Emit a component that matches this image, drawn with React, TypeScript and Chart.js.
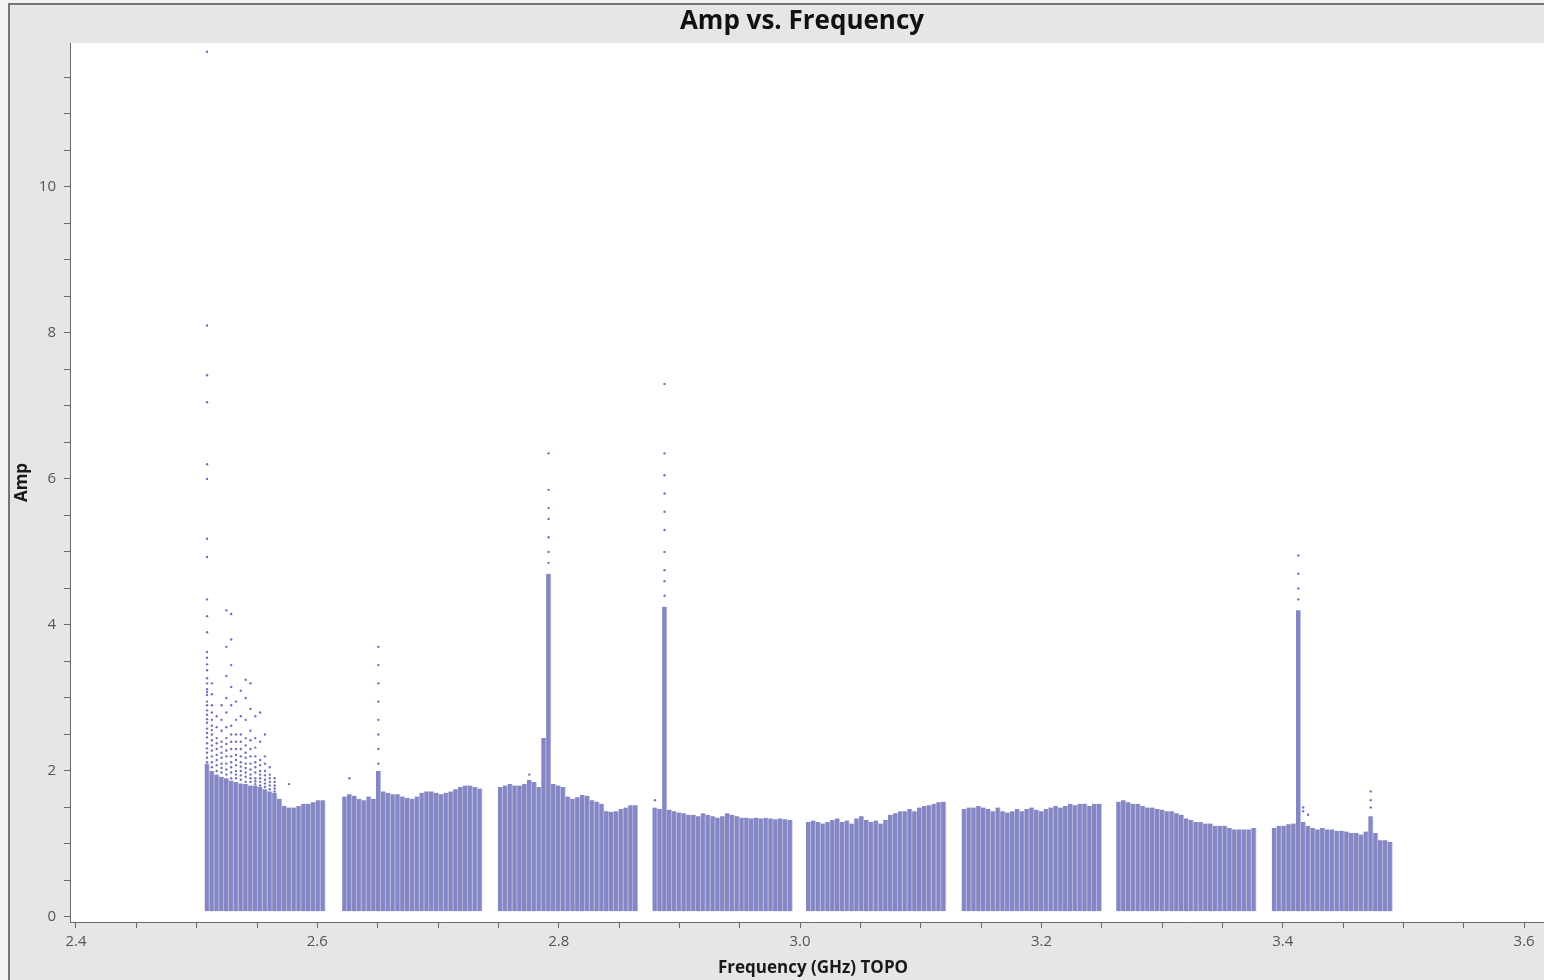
import React, { useEffect, useRef } from 'react';
import { Chart, registerables } from 'chart.js';

Chart.register(...registerables);

// ---------- data ----------
const chartTitle = 'Amp vs. Frequency';
const xAxisTitle = 'Frequency (GHz) TOPO';
const yAxisTitle = 'Amp';

// first unflagged channel centre of each spectral window (GHz)
const spwStartGHz = [2.5086, 2.6226, 2.7516, 2.8797, 3.0069, 3.1359, 3.264, 3.3929];
const chanWidthGHz = 0.004;
const ampFloor = 0.08;

const spw0Amp = [2.1, 2.0, 1.95, 1.92, 1.9, 1.87, 1.85, 1.83, 1.82, 1.8, 1.8, 1.78, 1.75, 1.72, 1.7, 1.62, 1.52, 1.5, 1.5, 1.52, 1.55, 1.55, 1.57, 1.6, 1.6];
const spw1Amp = [1.65, 1.68, 1.66, 1.62, 1.6, 1.65, 1.62, 2.0, 1.72, 1.7, 1.68, 1.68, 1.65, 1.63, 1.62, 1.65, 1.7, 1.72, 1.72, 1.7, 1.68, 1.7, 1.72, 1.75, 1.78, 1.8, 1.8, 1.78, 1.76];
const spw2Amp = [1.78, 1.8, 1.82, 1.8, 1.8, 1.82, 1.88, 1.85, 1.78, 2.45, 4.7, 1.82, 1.8, 1.78, 1.65, 1.62, 1.64, 1.67, 1.66, 1.6, 1.58, 1.55, 1.45, 1.44, 1.45, 1.48, 1.5, 1.53, 1.53];
const spw3Amp = [1.5, 1.48, 4.25, 1.47, 1.45, 1.43, 1.42, 1.4, 1.4, 1.38, 1.42, 1.4, 1.38, 1.36, 1.38, 1.42, 1.4, 1.38, 1.36, 1.36, 1.35, 1.36, 1.35, 1.36, 1.35, 1.34, 1.35, 1.34, 1.33];
const spw4Amp = [1.3, 1.32, 1.3, 1.28, 1.3, 1.33, 1.35, 1.3, 1.32, 1.28, 1.35, 1.38, 1.33, 1.3, 1.32, 1.28, 1.33, 1.4, 1.42, 1.45, 1.45, 1.48, 1.45, 1.5, 1.52, 1.53, 1.55, 1.57, 1.58];
const spw5Amp = [1.48, 1.5, 1.5, 1.52, 1.5, 1.48, 1.45, 1.5, 1.45, 1.43, 1.45, 1.48, 1.45, 1.48, 1.5, 1.47, 1.45, 1.48, 1.5, 1.52, 1.5, 1.52, 1.55, 1.53, 1.55, 1.55, 1.52, 1.55, 1.55];
const spw6Amp = [1.58, 1.6, 1.57, 1.55, 1.55, 1.52, 1.5, 1.5, 1.48, 1.47, 1.45, 1.45, 1.42, 1.4, 1.35, 1.33, 1.3, 1.3, 1.28, 1.28, 1.25, 1.25, 1.25, 1.22, 1.2, 1.2, 1.2, 1.2, 1.22];
const spw7Amp = [1.22, 1.25, 1.25, 1.27, 1.28, 4.2, 1.3, 1.25, 1.22, 1.2, 1.22, 1.2, 1.2, 1.18, 1.18, 1.17, 1.15, 1.15, 1.13, 1.17, 1.38, 1.15, 1.05, 1.05, 1.03];

// sparse outlier points: spectral window, channel, amplitudes
const outlierSpw = [0, 0, 0, 0, 0, 0, 0, 0, 0, 0, 0, 0, 0, 0, 0, 0, 1, 1, 2, 2, 3, 3, 7, 7, 7, 7];
const outlierChan = [0, 1, 2, 3, 4, 5, 6, 7, 8, 9, 10, 11, 12, 13, 14, 17, 7, 1, 10, 6, 2, 0, 5, 6, 7, 20];
const outlierAmps = [
  [2.12, 2.18, 2.25, 2.31, 2.38, 2.46, 2.52, 2.58, 2.66, 2.71, 2.77, 2.83, 2.9, 2.95, 3.04, 3.08, 3.12, 3.2, 3.27, 3.38, 3.46, 3.55, 3.63, 3.9, 4.12, 4.35, 4.93, 5.18, 6.0, 6.2, 7.05, 7.42, 8.1, 11.85],
  [2.05, 2.12, 2.2, 2.28, 2.35, 2.42, 2.5, 2.56, 2.62, 2.7, 2.8, 2.9, 3.05, 3.2],
  [2.0, 2.08, 2.15, 2.22, 2.3, 2.38, 2.45, 2.6, 2.75],
  [1.98, 2.04, 2.1, 2.18, 2.25, 2.33, 2.4, 2.55, 2.7, 2.9],
  [1.95, 2.02, 2.1, 2.2, 2.28, 2.37, 2.45, 2.6, 2.8, 3.0, 3.3, 3.7, 4.2],
  [1.9, 1.98, 2.05, 2.12, 2.2, 2.3, 2.4, 2.5, 2.62, 2.9, 3.15, 3.45, 3.8, 4.15],
  [1.9, 1.95, 2.0, 2.08, 2.15, 2.22, 2.3, 2.4, 2.5, 2.7, 2.95],
  [1.88, 1.94, 2.0, 2.06, 2.12, 2.2, 2.3, 2.4, 2.5, 2.75, 3.1],
  [1.85, 1.92, 1.98, 2.04, 2.1, 2.18, 2.25, 2.35, 2.45, 2.7, 3.0, 3.25],
  [1.85, 1.9, 1.95, 2.02, 2.1, 2.2, 2.3, 2.42, 2.55, 2.85, 3.2],
  [1.82, 1.86, 1.9, 1.98, 2.05, 2.12, 2.2, 2.32, 2.45, 2.75],
  [1.8, 1.85, 1.9, 1.95, 2.0, 2.08, 2.15, 2.4, 2.8],
  [1.78, 1.83, 1.88, 1.94, 2.0, 2.1, 2.2, 2.5],
  [1.75, 1.8, 1.85, 1.9, 1.95, 2.05],
  [1.72, 1.76, 1.8, 1.85, 1.9],
  [1.82],
  [2.1, 2.3, 2.5, 2.7, 2.95, 3.2, 3.45, 3.7],
  [1.9],
  [4.85, 5.0, 5.2, 5.45, 5.6, 5.85, 6.35],
  [1.95],
  [4.4, 4.6, 4.75, 5.0, 5.3, 5.55, 5.8, 6.05, 6.35, 7.3],
  [1.6],
  [4.35, 4.5, 4.7, 4.95],
  [1.45, 1.5],
  [1.4],
  [1.5, 1.6, 1.72],
];

const xMajorStep = 0.2;
const xMinorStep = 0.05;
const xTickFirst = 2.4;
const xTickLast = 3.6;
const yMajorStep = 2;
const yMinorStep = 0.5;
const yTickLast = 11.5;

const spwAmps = [spw0Amp, spw1Amp, spw2Amp, spw3Amp, spw4Amp, spw5Amp, spw6Amp, spw7Amp];

export default function App() {
  const canvasRef = useRef<HTMLCanvasElement | null>(null);

  useEffect(() => {
    document.body.style.margin = '0';
    const canvas = canvasRef.current;
    if (!canvas) return;

    const barData: { x: number; y: [number, number] }[] = [];
    spwAmps.forEach((amps, s) => {
      amps.forEach((a, c) => {
        barData.push({ x: spwStartGHz[s] + c * chanWidthGHz, y: [ampFloor, a] });
      });
    });
    const dotData: { x: number; y: number }[] = [];
    outlierAmps.forEach((amps, i) => {
      const f = spwStartGHz[outlierSpw[i]] + outlierChan[i] * chanWidthGHz;
      amps.forEach((a) => dotData.push({ x: f, y: a }));
    });

    const xTicks: { value: number }[] = [];
    for (let v = xTickFirst; v <= xTickLast + 1e-9; v += xMinorStep) xTicks.push({ value: +v.toFixed(4) });
    const yTicks: { value: number }[] = [];
    for (let v = 0; v <= yTickLast + 1e-9; v += yMinorStep) yTicks.push({ value: +v.toFixed(4) });

    const bgPlugin = {
      id: 'plotmsBg',
      beforeDraw(chart: any) {
        const { ctx, chartArea, width, height } = chart;
        ctx.save();
        ctx.fillStyle = '#e6e6e6';
        ctx.fillRect(0, 0, width, height);
        ctx.fillStyle = '#ffffff';
        ctx.fillRect(chartArea.left, chartArea.top, chartArea.right - chartArea.left, chartArea.bottom - chartArea.top);
        ctx.fillStyle = '#111111';
        ctx.font = 'bold 26px "Open Sans"';
        ctx.textAlign = 'center';
        ctx.textBaseline = 'middle';
        ctx.fillText(chartTitle, 792, 17);
        ctx.restore();
      },
    };

    const chart = new Chart(canvas, {
      type: 'bar',
      data: {
        datasets: [
          {
            type: 'scatter',
            data: dotData,
            pointRadius: 1.2,
            pointBorderWidth: 0,
            pointBackgroundColor: '#7073b8',
            backgroundColor: '#7073b8',
          } as any,
          {
            type: 'bar',
            data: barData as any,
            backgroundColor: '#8587c5',
            borderColor: '#c3c4e5',
            borderWidth: { left: 0, right: 1, top: 0, bottom: 0 },
            borderSkipped: false,
            categoryPercentage: 1,
            barPercentage: 1,
          } as any,
        ],
      },
      options: {
        responsive: false,
        animation: false,
        layout: { padding: { top: 38, left: 0, right: 0, bottom: 0 } },
        plugins: {
          legend: { display: false },
          tooltip: { enabled: false },
          title: { display: false },
        },
        scales: {
          x: {
            type: 'linear',
            offset: false,
            min: 2.39504,
            max: 3.6264,
            afterBuildTicks: (scale: any) => {
              scale.ticks = xTicks.map((t) => ({ ...t }));
            },
            afterFit: (scale: any) => {
              scale.height = 58;
            },
            ticks: {
              autoSkip: false,
              maxRotation: 0,
              minRotation: 0,
              padding: 5,
              color: '#555555',
              font: { family: '"Open Sans"', size: 15 },
              callback: (value: any) => {
                const r = value / xMajorStep;
                return Math.abs(r - Math.round(r)) < 1e-6 ? Number(value).toFixed(1) : '';
              },
            },
            grid: {
              offset: false,
              drawOnChartArea: false,
              drawTicks: true,
              tickLength: 6,
              color: '#6a6a6a',
            },
            border: { display: true, color: '#6a6a6a', width: 1 },
            title: {
              display: true,
              text: xAxisTitle,
              color: '#1a1a1a',
              font: { family: '"Open Sans"', size: 17, weight: 'bold' },
              padding: { top: 0, bottom: 2 },
            },
          },
          y: {
            type: 'linear',
            min: -0.0685,
            max: 11.97,
            afterBuildTicks: (scale: any) => {
              scale.ticks = yTicks.map((t) => ({ ...t }));
            },
            afterFit: (scale: any) => {
              scale.width = 60;
            },
            ticks: {
              autoSkip: false,
              padding: 8,
              color: '#555555',
              font: { family: '"Open Sans"', size: 15 },
              callback: (value: any) => {
                const r = value / yMajorStep;
                return Math.abs(r - Math.round(r)) < 1e-6 ? String(Math.round(value)) : '';
              },
            },
            grid: {
              drawOnChartArea: false,
              drawTicks: true,
              tickLength: 6,
              color: '#6a6a6a',
            },
            border: { display: true, color: '#6a6a6a', width: 1 },
            title: {
              display: true,
              text: yAxisTitle,
              color: '#1a1a1a',
              font: { family: '"Open Sans"', size: 17, weight: 'bold' },
              padding: { top: 2, bottom: 0 },
            },
          },
        },
      } as any,
      plugins: [bgPlugin],
    });

    return () => chart.destroy();
  }, []);

  return (
    <div style={{ position: 'relative', width: 1544, height: 980, overflow: 'hidden', background: '#f2f2f2' }}>
      <div
        style={{
          position: 'absolute',
          left: 8,
          top: 3,
          width: 1600,
          height: 1000,
          borderLeft: '2px solid #747474',
          borderTop: '2px solid #747474',
          background: '#e6e6e6',
        }}
      />
      <canvas
        ref={canvasRef}
        width={1550}
        height={975}
        style={{ position: 'absolute', left: 10, top: 5, width: 1550, height: 975 }}
      />
    </div>
  );
}
